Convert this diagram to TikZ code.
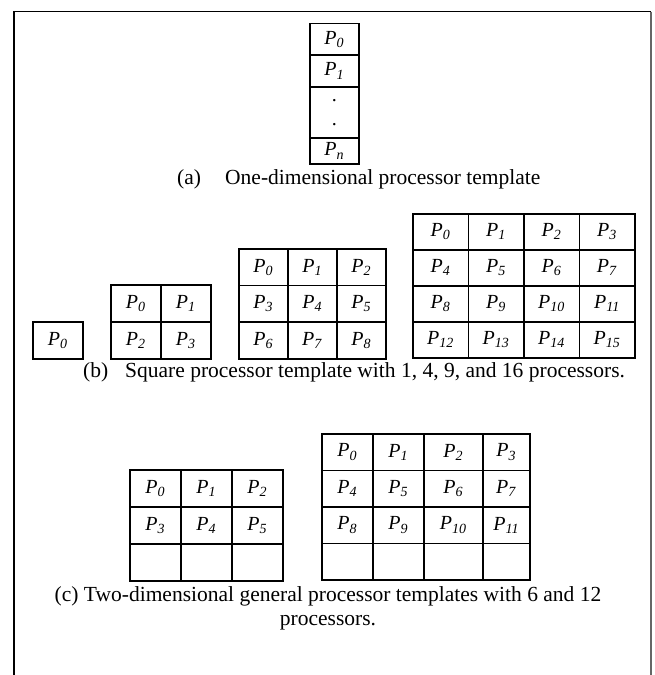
\documentclass[tikz,border=0pt]{standalone}
\usepackage{fontspec}
\setmainfont{Liberation Serif}
\newcommand{\Pp}[1]{\textit{P}\textsubscript{\textit{#1}}}
\begin{document}
\begin{tikzpicture}[x=1pt,y=-1pt,
  cell/.style={draw, line width=1.6pt, inner sep=0pt, anchor=north west,
    font=\fontsize{20}{24}\selectfont},
  captxt/.style={inner sep=0pt, font=\fontsize{21.5}{26}\selectfont},
  frameline/.style={line width=1.2pt}]
\useasboundingbox (0,0) rectangle (654,675);
% frame
\coordinate (ftl) at (14,11.5);
\coordinate (ftr) at (651,11.5);
\coordinate (fbl) at (14,675);
\coordinate (fbr) at (651,675);
\draw[frameline] (fbl) -- (ftl) -- (ftr);
\draw[frameline, black!60] (ftr) -- (fbr);
% (a) column
\node[cell, minimum width=49, minimum height=31.5] (a0) at (309,22.7) {\Pp{0}};
\node[cell, minimum width=49, minimum height=32] (a1) at (309,54.2) {\Pp{1}};
\node[cell, minimum width=49, minimum height=51, align=center] (a2) at (309,86.2) {.\\[0pt].};
\node[cell, minimum width=49, minimum height=26] (a3) at (309,137.2) {\Pp{n}};
\node[captxt, anchor=west] (capa1) at (177,179) {(a)};
\node[captxt, anchor=west] (capa2) at (225,179) {One-dimensional processor template};
% (b) 1x1
\node[cell, minimum width=50, minimum height=37] (b1) at (32,321) {\Pp{0}};
% (b) 2x2
\foreach \r in {0,1} \foreach \c in {0,1} {
  \pgfmathtruncatemacro\k{2*\r+\c}
  \node[cell, minimum width=50, minimum height=37] (bb\k) at (110+50*\c,284+37*\r) {\Pp{\k}};
}
% (b) 3x3
\foreach \r in {0,1,2} \foreach \c in {0,1,2} {
  \pgfmathtruncatemacro\k{3*\r+\c}
  \node[cell, minimum width=49, minimum height=36.7] (bc\k) at (238+49*\c,248+36.7*\r) {\Pp{\k}};
}
% (b) 4x4
\foreach \r in {0,...,3} \foreach \c in {0,...,3} {
  \pgfmathtruncatemacro\k{4*\r+\c}
  \node[cell, minimum width=55.5, minimum height=36] (bd\k) at (412+55.5*\c,213+36*\r) {\Pp{\k}};
}
\node[captxt, anchor=west] (capb1) at (83,372) {(b)};
\node[captxt, anchor=west] (capb2) at (125,372) {Square processor template with 1, 4, 9, and 16 processors.};
% (c) 3 cols x 3 rows
\foreach \r in {0,1,2} \foreach \c in {0,1,2} {
  \pgfmathtruncatemacro\k{3*\r+\c}
  \ifnum\k<6
    \node[cell, minimum width=51, minimum height=37] (ca\k) at (129+51*\c,469+37*\r) {\Pp{\k}};
  \else
    \node[cell, minimum width=51, minimum height=37] (ca\k) at (129+51*\c,469+37*\r) {};
  \fi
}
% (c) 4 cols x 4 rows
\foreach \r in {0,...,3} \foreach \c in {0,...,3} {
  \pgfmathtruncatemacro\k{4*\r+\c}
  \pgfmathsetmacro\xx{{321,372,423,482}[\c]}
  \pgfmathsetmacro\ww{{51,51,59,47}[\c]}
  \ifnum\k<12
    \node[cell, minimum width=\ww, minimum height=36.5] (cb\k) at (\xx,433+36.5*\r) {\Pp{\k}};
  \else
    \node[cell, minimum width=\ww, minimum height=36.5] (cb\k) at (\xx,433+36.5*\r) {};
  \fi
}
\node[captxt] (capc1) at (328,596) {(c) Two-dimensional general processor templates with 6 and 12};
\node[captxt] (capc2) at (328,623) {processors.};
\end{tikzpicture}
\end{document}
